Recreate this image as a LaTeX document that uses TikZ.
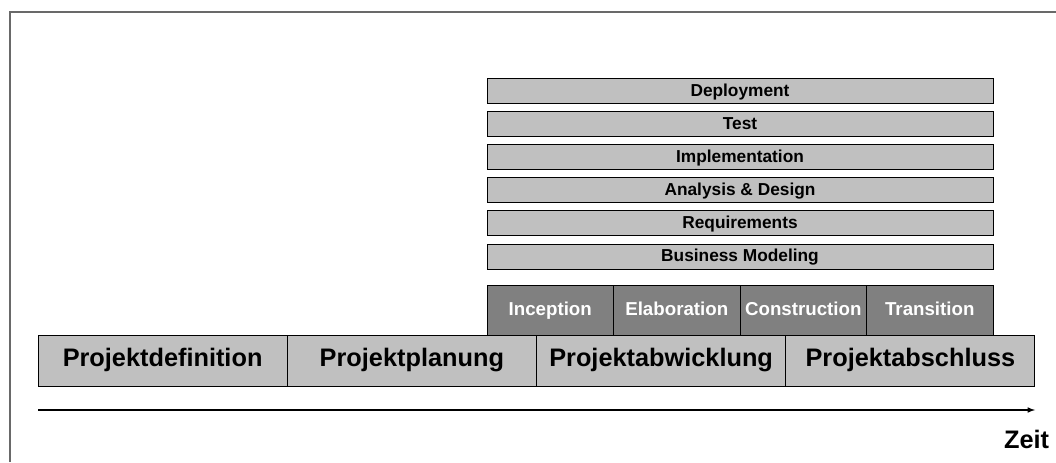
\documentclass[tikz,border=0pt]{standalone}
\usepackage{fontspec}
\setmainfont{Liberation Sans}
\usepackage{xcolor}

\definecolor{barfill}{RGB}{192,192,192}
\definecolor{phasefill}{RGB}{128,128,128}
\definecolor{framecol}{RGB}{105,105,105}

\tikzset{
  discipline/.style={draw, fill=barfill, line width=0.6pt, inner sep=0pt,
    minimum width=12.65cm, minimum height=0.625cm,
    text height=0.74em, text depth=0em,
    font=\fontsize{12.3}{14}\selectfont\bfseries},
  phase/.style={draw, fill=phasefill, line width=0.6pt, inner sep=0pt,
    minimum width=3.1625cm, minimum height=1.25cm, text=white,
    text height=0.76em, text depth=0em,
    font=\fontsize{13.3}{15}\selectfont\bfseries},
  stage/.style={draw, fill=barfill, line width=0.6pt, inner sep=0pt,
    minimum width=6.225cm, minimum height=1.275cm,
    text height=0.88em, text depth=0em,
    font=\fontsize{18}{20}\selectfont\bfseries}
}

\begin{document}
\begin{tikzpicture}[x=0.025cm, y=0.025cm]

\useasboundingbox (0,0) rectangle (1056,462);

% frame
\draw [framecol, line width=1.4pt] (10,0) -- (10,450) -- (1056,450);

% disciplines
\foreach \txt [count=\i from 0] in {Deployment, Test, Implementation, {Analysis \& Design}, Requirements, Business Modeling}
  \node [discipline] (disc\i) at (740, 371-33.1*\i) {\txt};

% phases
\foreach \txt [count=\i from 0] in {Inception, Elaboration, Construction, Transition}
  \node [phase] (phase\i) at (487+126.5*\i+63.25, 152) {\txt};

% project stages
\foreach \txt [count=\i from 0] in {Projektdefinition, Projektplanung, Projektabwicklung, Projektabschluss}
  \node [stage] (stage\i) at (38+249.25*\i+124.6, 101.5) {\txt};

% time axis
\coordinate (tstart) at (38,52);
\coordinate (tend) at (1035,52);
\draw [>=latex, ->, line width=0.8pt] (tstart) -- (tend);
\node [anchor=base east, font=\fontsize{18}{20}\selectfont\bfseries] (zeit) at (1054,14) {Zeit};

\end{tikzpicture}
\end{document}
